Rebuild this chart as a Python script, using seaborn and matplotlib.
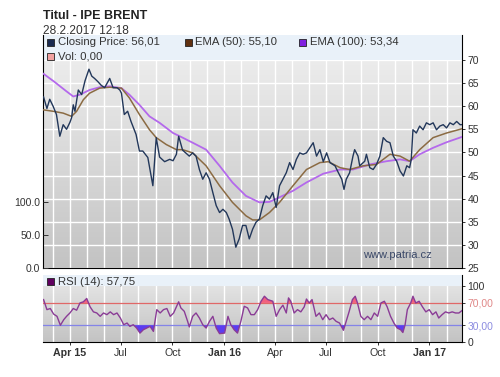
import numpy as np
import pandas as pd
import matplotlib
matplotlib.use("Agg")
import matplotlib.pyplot as plt
import matplotlib.dates as mdates
from matplotlib.patches import Rectangle
from matplotlib.colors import LinearSegmentedColormap
import seaborn as sns

plt.rcParams['font.family'] = ['Liberation Sans', 'DejaVu Sans']

# ---------------- data ----------------
price_dates = [
    "2015-02-13", "2015-02-19", "2015-02-24", "2015-03-02", "2015-03-08", "2015-03-14",
    "2015-03-20", "2015-03-26", "2015-04-01", "2015-04-04", "2015-04-07", "2015-04-10",
    "2015-04-16", "2015-04-22", "2015-04-28", "2015-05-05", "2015-05-10", "2015-05-15",
    "2015-05-21", "2015-05-27", "2015-06-02", "2015-06-11", "2015-06-17", "2015-06-24",
    "2015-06-29", "2015-07-02", "2015-07-07", "2015-07-13", "2015-07-19", "2015-07-28",
    "2015-08-03", "2015-08-09", "2015-08-18", "2015-08-27", "2015-09-02", "2015-09-08",
    "2015-09-17", "2015-09-26", "2015-10-02", "2015-10-08", "2015-10-12", "2015-10-19",
    "2015-10-31", "2015-11-06", "2015-11-12", "2015-11-18", "2015-11-24", "2015-11-30",
    "2015-12-06", "2015-12-12", "2015-12-18", "2015-12-24", "2015-12-30", "2016-01-05",
    "2016-01-10", "2016-01-16", "2016-01-22", "2016-01-28", "2016-02-03", "2016-02-09",
    "2016-02-15", "2016-02-21", "2016-02-27", "2016-03-04", "2016-03-10", "2016-03-16",
    "2016-03-22", "2016-03-28", "2016-04-03", "2016-04-09", "2016-04-15", "2016-04-21",
    "2016-04-27", "2016-05-03", "2016-05-09", "2016-05-15", "2016-05-21", "2016-05-27",
    "2016-06-08", "2016-06-14", "2016-06-20", "2016-06-26", "2016-07-02", "2016-07-08",
    "2016-07-17", "2016-07-23", "2016-07-29", "2016-08-02", "2016-08-06", "2016-08-12",
    "2016-08-18", "2016-08-21", "2016-08-27", "2016-08-30", "2016-09-08", "2016-09-11",
    "2016-09-17", "2016-09-23", "2016-09-29", "2016-10-05", "2016-10-11", "2016-10-17",
    "2016-10-23", "2016-10-29", "2016-11-04", "2016-11-10", "2016-11-16", "2016-11-22",
    "2016-11-27", "2016-11-30", "2016-12-03", "2016-12-09", "2016-12-15", "2016-12-21",
    "2016-12-27", "2017-01-02", "2017-01-08", "2017-01-14", "2017-01-20", "2017-01-26",
    "2017-02-01", "2017-02-07", "2017-02-13", "2017-02-19", "2017-02-25", "2017-02-28",
]
price_values = [
    62.0, 59.5, 61.5, 60.0, 58.2, 53.5,
    56.0, 55.0, 56.5, 57.5, 60.3, 58.9,
    63.5, 62.5, 65.5, 68.0, 66.5, 66.0,
    65.3, 64.5, 64.0, 66.0, 64.0, 64.0,
    63.5, 62.8, 58.2, 58.9, 56.7, 53.9,
    50.3, 50.3, 48.9, 42.8, 53.2, 49.0,
    48.0, 48.5, 48.2, 49.6, 53.5, 50.5,
    49.2, 49.9, 49.2, 46.3, 44.2, 45.6,
    44.2, 41.3, 38.5, 37.0, 37.7, 37.0,
    35.6, 33.4, 29.5, 31.3, 34.2, 34.2,
    31.3, 33.4, 34.9, 35.6, 38.5, 40.6,
    39.9, 41.3, 38.1, 42.8, 44.2, 45.6,
    47.8, 46.3, 48.5, 49.9, 49.6, 49.9,
    52.1, 49.2, 50.6, 48.0, 49.9, 47.8,
    47.1, 45.6, 44.2, 42.0, 44.2, 45.6,
    49.2, 50.6, 49.2, 47.1, 48.1, 49.6,
    46.7, 46.3, 47.4, 49.2, 53.2, 52.4,
    52.1, 49.2, 48.1, 46.0, 44.9, 47.1,
    46.7, 48.5, 54.9, 54.2, 55.7, 54.9,
    56.4, 56.0, 56.4, 54.9, 55.7, 56.0,
    55.3, 56.4, 56.0, 56.7, 56.0, 56.01,
]

ema50_dates = [
    "2015-02-13", "2015-03-02", "2015-03-20", "2015-04-04", "2015-04-13", "2015-04-25",
    "2015-05-06", "2015-05-24", "2015-06-11", "2015-07-02", "2015-07-16", "2015-08-03",
    "2015-08-21", "2015-09-02", "2015-09-20", "2015-10-08", "2015-10-19", "2015-11-06",
    "2015-11-30", "2015-12-24", "2016-01-16", "2016-02-09", "2016-02-21", "2016-03-04",
    "2016-03-22", "2016-04-09", "2016-05-03", "2016-05-27", "2016-06-20", "2016-07-05",
    "2016-07-26", "2016-08-12", "2016-09-05", "2016-09-29", "2016-10-23", "2016-11-10",
    "2016-11-27", "2016-12-15", "2017-01-08", "2017-02-01", "2017-02-28",
]
ema50_values = [
    59.2, 58.9, 58.5, 57.8, 58.9, 61.4,
    62.8, 63.9, 64.1, 63.9, 61.8, 58.2,
    54.9, 53.2, 51.7, 50.6, 50.6, 49.9,
    47.1, 42.8, 39.2, 36.3, 35.4, 35.4,
    37.0, 39.2, 42.8, 46.3, 47.8, 48.0,
    46.7, 46.3, 47.1, 47.4, 49.6, 49.2,
    48.1, 50.6, 53.2, 54.2, 55.10,
]

ema100_dates = [
    "2015-02-13", "2015-03-04", "2015-03-26", "2015-04-07", "2015-04-19", "2015-05-06",
    "2015-05-24", "2015-06-11", "2015-07-02", "2015-07-16", "2015-08-03", "2015-08-21",
    "2015-09-08", "2015-10-02", "2015-10-19", "2015-11-06", "2015-11-30", "2015-12-24",
    "2016-01-16", "2016-02-09", "2016-03-04", "2016-03-22", "2016-04-09", "2016-05-03",
    "2016-05-27", "2016-06-26", "2016-07-26", "2016-08-18", "2016-09-17", "2016-10-17",
    "2016-11-10", "2016-11-27", "2016-12-15", "2017-01-08", "2017-02-01", "2017-02-28",
]
ema100_values = [
    67.0, 65.3, 63.2, 62.1, 62.5, 63.5,
    64.1, 64.3, 63.9, 62.5, 60.3, 57.8,
    56.4, 54.2, 53.2, 52.1, 50.6, 47.1,
    43.5, 40.6, 39.2, 39.3, 40.3, 41.7,
    43.5, 45.4, 46.3, 46.3, 47.4, 48.1,
    48.5, 48.1, 49.6, 51.0, 52.2, 53.34,
]

rsi_dates = [
    "2015-02-13", "2015-02-19", "2015-02-25", "2015-03-03", "2015-03-09", "2015-03-15",
    "2015-03-21", "2015-03-26", "2015-04-01", "2015-04-07", "2015-04-13", "2015-04-19",
    "2015-04-25", "2015-05-01", "2015-05-07", "2015-05-13", "2015-05-19", "2015-05-25",
    "2015-05-31", "2015-06-06", "2015-06-12", "2015-06-18", "2015-06-24", "2015-06-30",
    "2015-07-06", "2015-07-12", "2015-07-17", "2015-07-23", "2015-07-29", "2015-08-04",
    "2015-08-10", "2015-08-16", "2015-08-22", "2015-08-28", "2015-09-03", "2015-09-09",
    "2015-09-15", "2015-09-21", "2015-09-27", "2015-10-03", "2015-10-08", "2015-10-12",
    "2015-10-16", "2015-10-22", "2015-10-28", "2015-10-31", "2015-11-06", "2015-11-12",
    "2015-11-18", "2015-11-24", "2015-11-30", "2015-12-06", "2015-12-12", "2015-12-18",
    "2015-12-24", "2016-01-02", "2016-01-08", "2016-01-13", "2016-01-19", "2016-01-25",
    "2016-01-31", "2016-02-06", "2016-02-12", "2016-02-18", "2016-02-24", "2016-03-01",
    "2016-03-07", "2016-03-13", "2016-03-19", "2016-03-28", "2016-04-03", "2016-04-09",
    "2016-04-15", "2016-04-21", "2016-04-25", "2016-04-29", "2016-05-05", "2016-05-11",
    "2016-05-17", "2016-05-23", "2016-05-27", "2016-06-01", "2016-06-06", "2016-06-13",
    "2016-06-19", "2016-06-25", "2016-07-01", "2016-07-07", "2016-07-13", "2016-07-19",
    "2016-07-25", "2016-08-01", "2016-08-05", "2016-08-11", "2016-08-17", "2016-08-22",
    "2016-08-26", "2016-09-01", "2016-09-07", "2016-09-13", "2016-09-19", "2016-09-25",
    "2016-10-01", "2016-10-07", "2016-10-13", "2016-10-18", "2016-10-24", "2016-10-30",
    "2016-11-05", "2016-11-11", "2016-11-15", "2016-11-19", "2016-11-23", "2016-11-29",
    "2016-12-03", "2016-12-08", "2016-12-14", "2016-12-20", "2016-12-26", "2017-01-01",
    "2017-01-07", "2017-01-13", "2017-01-18", "2017-01-24", "2017-01-30", "2017-02-05",
    "2017-02-11", "2017-02-17", "2017-02-23", "2017-02-28",
]
rsi_values = [
    76, 58, 60, 50, 46, 30,
    40, 46, 52, 60, 57, 70,
    72, 78, 63, 54, 52, 46,
    52, 49, 54, 49, 52, 43,
    31, 34, 28, 31, 25, 16,
    22, 25, 28, 19, 58, 52,
    58, 60, 46, 52, 63, 72,
    61, 55, 37, 27, 46, 52,
    43, 31, 25, 37, 46, 25,
    15, 16, 46, 31, 22, 16,
    37, 64, 61, 49, 49, 58,
    73, 82, 76, 73, 46, 58,
    66, 52, 79, 73, 52, 58,
    54, 63, 77, 70, 76, 46,
    52, 40, 49, 40, 43, 37,
    34, 21, 34, 54, 76, 82,
    70, 46, 40, 46, 40, 52,
    46, 70, 73, 63, 46, 34,
    25, 22, 17, 31, 58, 70,
    82, 70, 73, 63, 54, 58,
    49, 54, 43, 49, 54, 52,
    54, 52, 52, 56,
]

tick_dates = ["2015-04-01", "2015-07-01", "2015-10-01", "2016-01-01",
              "2016-04-01", "2016-07-01", "2016-10-01", "2017-01-01"]
tick_labels = ["Apr 15", "Jul", "Oct", "Jan 16", "Apr", "Jul", "Oct", "Jan 17"]
price_ticks = [25, 30, 35, 40, 45, 50, 55, 60, 65, 70]
vol_ticks = [0, 50, 100]
vol_tick_labels = ["0.0", "50.0", "100.0"]
rsi_ticks = [0, 30, 70, 100]
rsi_tick_labels = ["0", "30,00", "70,00", "100"]

# ---------------- frames ----------------
price_df = pd.DataFrame({"date": pd.to_datetime(price_dates), "value": price_values})
ema50_df = pd.DataFrame({"date": pd.to_datetime(ema50_dates), "value": ema50_values})
ema100_df = pd.DataFrame({"date": pd.to_datetime(ema100_dates), "value": ema100_values})
rsi_df = pd.DataFrame({"date": pd.to_datetime(rsi_dates), "value": rsi_values})

x0 = pd.Timestamp("2015-02-12")
x1 = pd.Timestamp("2017-02-28 12:00")

fig = plt.figure(figsize=(5.0, 3.77), dpi=100)
fig.patch.set_facecolor("white")
ax = fig.add_axes([0.086, 0.2891, 0.838, 0.6181])
axr = fig.add_axes([0.086, 0.0928, 0.838, 0.1777])

grad = np.linspace(0, 1, 256).reshape(-1, 1)
cm_main = LinearSegmentedColormap.from_list("gm", ["#f1f1f1", "#c3c3c3"])
cm_rsi = LinearSegmentedColormap.from_list("gr", ["#e9e9e9", "#c3c3c3"])
band_col = "#e9f1f9"

for a, cm in ((ax, cm_main), (axr, cm_rsi)):
    a.imshow(grad, extent=[0, 1, 0, 1], transform=a.transAxes, aspect="auto",
             cmap=cm, zorder=0, interpolation="bilinear")
    a.set_axisbelow(True)
    a.xaxis.set_minor_locator(mdates.MonthLocator())
    a.grid(which="minor", axis="x", color="white", linewidth=1.0)
    a.grid(which="major", axis="x", color="white", linewidth=1.0)

# main panel
ax.axhspan(70, 90, color=band_col, zorder=1, linewidth=0)
ax.set_yticks(price_ticks)
ax.grid(which="major", axis="y", color="white", linewidth=1.0)

sns.lineplot(data=ema100_df, x="date", y="value", ax=ax, color="#b469ec",
             linewidth=1.3, legend=False, zorder=3)
sns.lineplot(data=ema50_df, x="date", y="value", ax=ax, color="#8b6b43",
             linewidth=1.1, legend=False, zorder=3)
sns.lineplot(data=price_df, x="date", y="value", ax=ax, color="#22375a",
             linewidth=1.0, legend=False, zorder=4)

ax.set_xlim(x0, x1)
ax.set_ylim(25, 75.4)
ax.set_xticks(pd.to_datetime(tick_dates))
ax.tick_params(axis="x", which="both", bottom=False, labelbottom=False)
ax.yaxis.tick_right()
ax.tick_params(axis="y", direction="out", length=2.5, width=0.7, pad=1.5,
               labelsize=7.5, labelcolor="#333333", colors="#333333")
ax.set_xlabel("")
ax.set_ylabel("")
for s in ("top",):
    ax.spines[s].set_visible(False)
for s in ("left", "right", "bottom"):
    ax.spines[s].set_color("black")
    ax.spines[s].set_linewidth(0.8)

axv = ax.twinx()
axv.set_ylim(0, 353)
axv.set_yticks(vol_ticks)
axv.set_yticklabels(vol_tick_labels)
axv.yaxis.tick_left()
axv.tick_params(axis="y", direction="in", length=3.5, width=0.7, pad=2,
                labelsize=7.5, labelcolor="#333333", colors="#333333")
for s in axv.spines.values():
    s.set_visible(False)
ax.yaxis.tick_right()
ax.set_yticks(price_ticks)

# legend (main)
def legend_item(a, xs, xt, y, sq_color, text, h):
    a.add_patch(Rectangle((xs, y - h / 2), 0.0167, h, transform=a.transAxes,
                          facecolor=sq_color, edgecolor="#222222", linewidth=0.6,
                          clip_on=False, zorder=6))
    a.text(xt, y, text, transform=a.transAxes, fontsize=8.2, color="#333333",
           va="center", ha="left", zorder=6)

hm = 7 / 233
legend_item(ax, 0.0105, 0.0358, 0.969, "#1a2a50", "Closing Price: 56,01", hm)
legend_item(ax, 0.3390, 0.3630, 0.969, "#603010", "EMA (50): 55,10", hm)
legend_item(ax, 0.6120, 0.6370, 0.969, "#8020e0", "EMA (100): 53,34", hm)
legend_item(ax, 0.0105, 0.0358, 0.909, "#f0a0a0", "Vol: 0,00", hm)

ax.text(0.763, 0.056, "www.patria.cz", transform=ax.transAxes, fontsize=8,
        color="#3a4868", va="center", ha="left", zorder=6)

# RSI panel
axr.axhspan(100, 130, color=band_col, zorder=1, linewidth=0)
axr.axhline(70, color="#e06868", linewidth=0.9, zorder=2)
axr.axhline(30, color="#8484e8", linewidth=0.9, zorder=2)
rd = mdates.date2num(rsi_df["date"])
rv = np.array(rsi_values, dtype=float)
axr.fill_between(rd, rv, 70, where=rv > 70, interpolate=True, color="#f2607e",
                 linewidth=0, zorder=3)
axr.fill_between(rd, rv, 30, where=rv < 30, interpolate=True, color="#5c3cf0",
                 linewidth=0, zorder=3)
sns.lineplot(data=rsi_df, x="date", y="value", ax=axr, color="#8a3c96",
             linewidth=1.0, legend=False, zorder=4)
axr.set_xlim(x0, x1)
axr.set_ylim(0, 120)
axr.set_xlabel("")
axr.set_ylabel("")
axr.yaxis.tick_right()
axr.set_yticks(rsi_ticks)
axr.set_yticklabels(rsi_tick_labels)
axr.tick_params(axis="y", direction="out", length=2.5, width=0.7, pad=1.5,
                labelsize=7.5, colors="#333333")
lab_colors = ["#333333", "#8c8ce0", "#e08888", "#333333"]
for t, c in zip(axr.get_yticklabels(), lab_colors):
    t.set_color(c)
axr.set_xticks(pd.to_datetime(tick_dates))
axr.set_xticklabels(tick_labels)
axr.tick_params(axis="x", which="major", direction="out", length=2.5, width=0.7,
                pad=1.5, labelsize=7.7, colors="#333333")
axr.tick_params(axis="x", which="minor", bottom=False)
for t in axr.get_xticklabels():
    if t.get_text() in ("Apr 15", "Jan 16", "Jan 17"):
        t.set_fontweight("bold")
axr.spines["top"].set_visible(False)
axr.spines["left"].set_visible(False)
for s in ("right", "bottom"):
    axr.spines[s].set_color("black")
    axr.spines[s].set_linewidth(0.8)

legend_item(axr, 0.0105, 0.0358, 0.903, "#600060", "RSI (14): 57,75", 7 / 67)

# titles
fig.text(0.086, 0.9576, "Titul - IPE BRENT", fontsize=9, fontweight="bold",
         color="#222222", va="center", ha="left")
fig.text(0.086, 0.9178, "28.2.2017 12:18", fontsize=8.6, color="#333333",
         va="center", ha="left")

fig.savefig("out.png", dpi=100)
